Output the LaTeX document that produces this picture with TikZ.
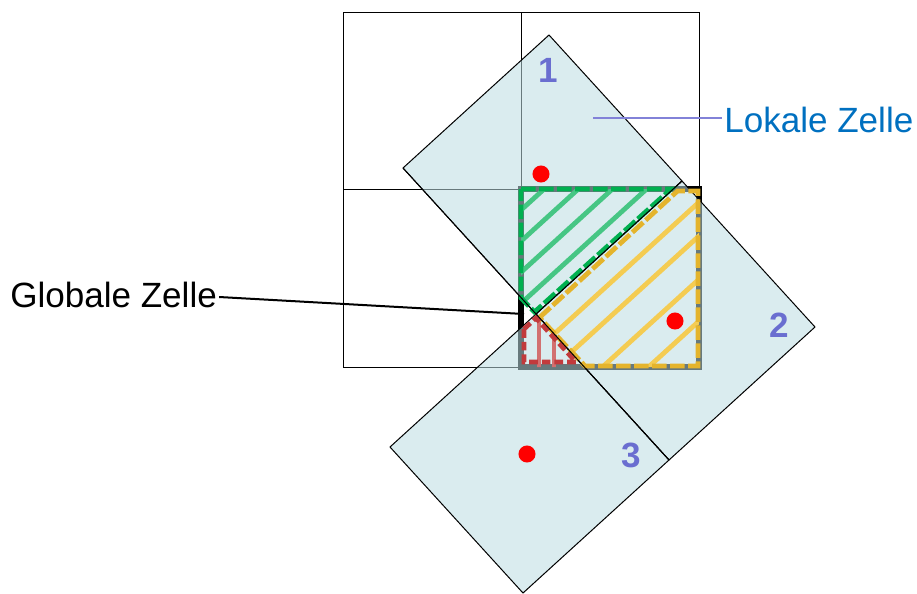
\documentclass[tikz,border=0pt]{standalone}
\usepackage{fontspec}
\setmainfont{Liberation Sans}
\usetikzlibrary{calc}
\definecolor{cellblue}{HTML}{BCDDE2}
\definecolor{numblue}{HTML}{6A6ED0}
\definecolor{lokalblue}{HTML}{0070C0}
\definecolor{leaderblue}{HTML}{8282D8}
\definecolor{gzgreen}{HTML}{00B050}
\definecolor{gzlightgreen}{HTML}{46C684}
\definecolor{gzyellow}{HTML}{E4B42C}
\definecolor{gzlightyellow}{HTML}{F4CC52}
\definecolor{gzred}{HTML}{C23A3C}
\definecolor{gzlightred}{HTML}{D27070}
\definecolor{dotred}{HTML}{FF0000}

\begin{document}
\begin{tikzpicture}[x=0.75pt, y=-0.75pt, font=\fontsize{26.3}{31}\selectfont,
    cell/.style={fill=cellblue, fill opacity=0.55, draw=black, line width=0.75pt},
    hatch/.style={line width=3.6pt},
    rand/.style={line width=3.6pt, dash pattern=on 11pt off 2.5pt},
    num/.style={text=numblue, font=\fontsize{26.3}{31}\selectfont\bfseries}]
  \useasboundingbox (0,0) rectangle (917,593);
  \draw[line width=0.75pt] (343,12) rectangle (699,367);
  \draw[line width=0.75pt] (521,12) -- (521,367);
  \draw[line width=0.75pt] (343,189) -- (699,189);
  \draw[line width=4.5pt] (521,189) rectangle (699,367);

  \coordinate (O) at (536,314);
  \filldraw[cell] (O) -- (682,181) -- (549,35) -- (403,168) -- cycle;
  \filldraw[cell] (O) -- (682,181) -- (815,327) -- (669,460) -- cycle;
  \filldraw[cell] (O) -- (669,460) -- (523,593) -- (390,447) -- cycle;

  \begin{scope}
    \clip (521,189) -- (673,189) -- (O) -- (521,297.5) -- cycle;
    \foreach \d in {18,41,64,87}
      \draw[hatch, gzlightgreen] ($(O)+\d*(-0.673,-0.739)+(-300,273)$) -- ++(600,-546);
  \end{scope}
  \begin{scope}
    \clip (673,189) -- (699,189) -- (699,367) -- (584,367) -- (O) -- cycle;
    \foreach \d in {-27,-52,-84,-115}
      \draw[hatch, gzlightyellow] ($(O)+\d*(-0.673,-0.739)+(-300,273)$) -- ++(600,-546);
  \end{scope}
  \begin{scope}
    \clip (521,328) -- (O) -- (584,367) -- (521,367) -- cycle;
    \foreach \x in {539,554}
      \draw[hatch, gzlightred] (\x,300) -- (\x,370);
  \end{scope}

  \draw[rand, gzgreen] (521,189) -- (671,189) -- (534.5,312) -- (521,298) -- cycle;
  \draw[rand, gzyellow] (539.5,317.5) -- (677.5,191) -- (698,191) -- (698,366) -- (585,366) -- cycle;
  \draw[rand, gzred, dash pattern=on 6.5pt off 3pt] (524,329) -- (536,318) -- (576,362) -- (524,362) -- cycle;
  \draw[line width=0.75pt] (403,168) -- (O) -- (682,181);
  \draw[line width=0.75pt] (O) -- (669,460);

  \fill[dotred] (541,174) circle (6.4pt);
  \fill[dotred] (675,321) circle (6.4pt);
  \fill[dotred] (527,454) circle (6.4pt);

  \node[num] (z1) at (548,70) {1};
  \node[num] (z2) at (779,325) {2};
  \node[num] (z3) at (631,455) {3};

  \node[anchor=base west, inner sep=0, text=lokalblue] (lokal) at (724,132) {Lokale Zelle};
  \coordinate (lokalpt) at (593,118);
  \draw[leaderblue, line width=1.5pt] (lokalpt) -- ([xshift=-1.5pt, yshift=10.5pt]lokal.base west);

  \node[anchor=base west, inner sep=0] (globe) at (10,307) {Globale Zelle};
  \coordinate (globept) at (524,314);
  \draw[line width=1.5pt] ([xshift=1.5pt, yshift=7.5pt]globe.base east) -- (globept);
\end{tikzpicture}
\end{document}
